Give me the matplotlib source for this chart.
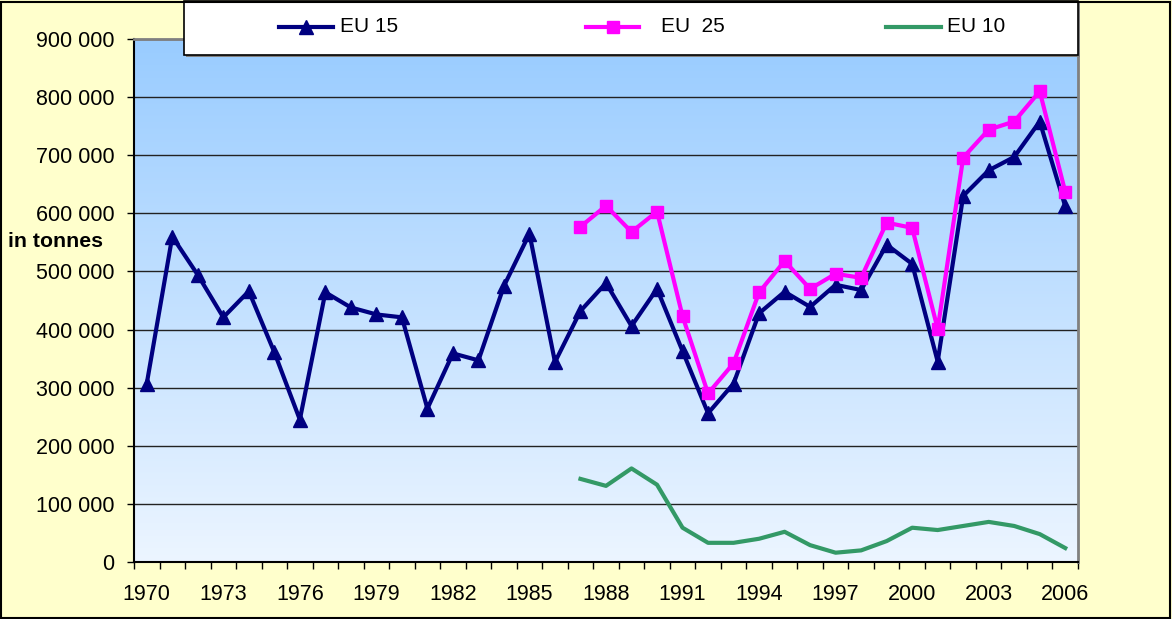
import numpy as np
import matplotlib
matplotlib.use("Agg")
import matplotlib.pyplot as plt
from matplotlib.colors import LinearSegmentedColormap
from matplotlib.patches import Rectangle
from matplotlib.lines import Line2D

plt.rcParams['font.family'] = ['Liberation Sans', 'DejaVu Sans']

years_eu15 = list(range(1970, 2007))
eu15 = [307000, 560000, 494000, 421000, 466000, 361000, 245000, 464000, 438000, 426000,
        421000, 264000, 359000, 347000, 475000, 565000, 344000, 432000, 480000, 406000,
        470000, 363000, 256000, 307000, 428000, 465000, 439000, 477000, 468000, 546000,
        513000, 345000, 630000, 674000, 697000, 758000, 612000]

years_eu25 = list(range(1987, 2007))
eu25 = [577000, 613000, 568000, 603000, 423000, 290000, 342000, 464000, 518000, 470000,
        496000, 489000, 584000, 575000, 401000, 696000, 744000, 758000, 810000, 637000]

years_eu10 = list(range(1987, 2007))
eu10 = [143000, 131000, 161000, 133000, 59000, 33000, 33000, 40000, 52000, 29000,
        16000, 20000, 36000, 59000, 55000, 62000, 69000, 62000, 48000, 24000]

xtick_years = list(range(1970, 2007, 3))
ytick_values = list(range(0, 900001, 100000))
series_labels = ["EU 15", "EU  25", "EU 10"]
y_label = "in tonnes"

W, H = 1172, 619
fig = plt.figure(figsize=(W / 100, H / 100), dpi=100)
fig.patch.set_facecolor('#FFFFCC')

def fx(px):
    return px / W

def fy(py):
    return 1 - py / H

# figure border
fig.add_artist(Rectangle((0.001, 0.002), 0.997, 0.995, transform=fig.transFigure,
                         fill=False, edgecolor='black', linewidth=1.5, zorder=10))

left, right, top, bottom = 134, 1078, 39, 562
ax = fig.add_axes([fx(left), fy(bottom), fx(right - left), (bottom - top) / H])

xmin, xmax = 1969.5, 2006.5
ymin, ymax = 0, 900000
cmap = LinearSegmentedColormap.from_list('bg', ['#ECF5FF', '#99CCFF'])
grad = np.linspace(0, 1, 256)[:, None]
ax.imshow(grad, extent=(xmin, xmax, ymin, ymax), origin='lower', aspect='auto',
          cmap=cmap, zorder=0, interpolation='bilinear')

for v in ytick_values[1:]:
    ax.axhline(v, color='#222222', linewidth=1.0, zorder=1)

ax.plot(years_eu15, eu15, color='#000080', linewidth=3.0, marker='^', markersize=10,
        markeredgecolor='#000080', markerfacecolor='#000080', zorder=3)
ax.plot(years_eu25, eu25, color='#FF00FF', linewidth=3.0, marker='s', markersize=8.5,
        markeredgecolor='#FF00FF', markerfacecolor='#FF00FF', zorder=4)
ax.plot(years_eu10, eu10, color='#339966', linewidth=3.0, zorder=3)

ax.set_xlim(xmin, xmax)
ax.set_ylim(ymin, ymax)

ax.set_xticks(np.arange(1969.5, 2007, 1.0))
ax.set_xticklabels([])
ax.set_xticks(xtick_years, minor=True)
ax.set_xticklabels([str(y) for y in xtick_years], minor=True)
ax.tick_params(axis='x', which='major', length=5, width=1, direction='out', color='black')
ax.tick_params(axis='x', which='minor', length=0, pad=16, labelsize=15.5)

ax.set_yticks(ytick_values)
ax.set_yticklabels([f"{v:,}".replace(",", " ") for v in ytick_values])
ax.tick_params(axis='y', length=5, width=1, direction='out', pad=9, labelsize=15.5)

for s in ['left', 'bottom']:
    ax.spines[s].set_color('black')
    ax.spines[s].set_linewidth(1.5)
for s in ['top', 'right']:
    ax.spines[s].set_color('#808080')
    ax.spines[s].set_linewidth(2)

fig.text(fx(8), fy(241), y_label, fontsize=15.3, fontweight='bold', ha='left', va='center')

# legend box
lx0, ly0, lx1, ly1 = 184, 1, 1078, 55
fig.add_artist(Rectangle((fx(lx0 + 2), fy(ly1 + 2)), fx(lx1 - lx0), (ly1 - ly0) / H,
                         transform=fig.transFigure, facecolor='#808080',
                         edgecolor='none', zorder=5))
fig.add_artist(Rectangle((fx(lx0), fy(ly1)), fx(lx1 - lx0), (ly1 - ly0) / H,
                         transform=fig.transFigure, facecolor='white',
                         edgecolor='black', linewidth=1.2, zorder=6))
ly = 27
legend_specs = [
    (279, 333, 340, '#000080', '^', 10),
    (586, 639, 661, '#FF00FF', 's', 8.5),
    (886, 941, 947, '#339966', None, 0),
]
for (x0, x1, tx, c, m, ms), lab in zip(legend_specs, series_labels):
    fig.add_artist(Line2D([fx(x0), fx(x1)], [fy(ly), fy(ly)], transform=fig.transFigure,
                          color=c, linewidth=3.0, zorder=7))
    if m:
        fig.add_artist(Line2D([fx((x0 + x1) / 2)], [fy(ly)], transform=fig.transFigure,
                              color=c, marker=m, markersize=ms, linestyle='none', zorder=7))
    fig.text(fx(tx), fy(ly), lab, fontsize=15, ha='left', va='center', zorder=8)

fig.savefig('out.png', dpi=100, facecolor=fig.get_facecolor())
